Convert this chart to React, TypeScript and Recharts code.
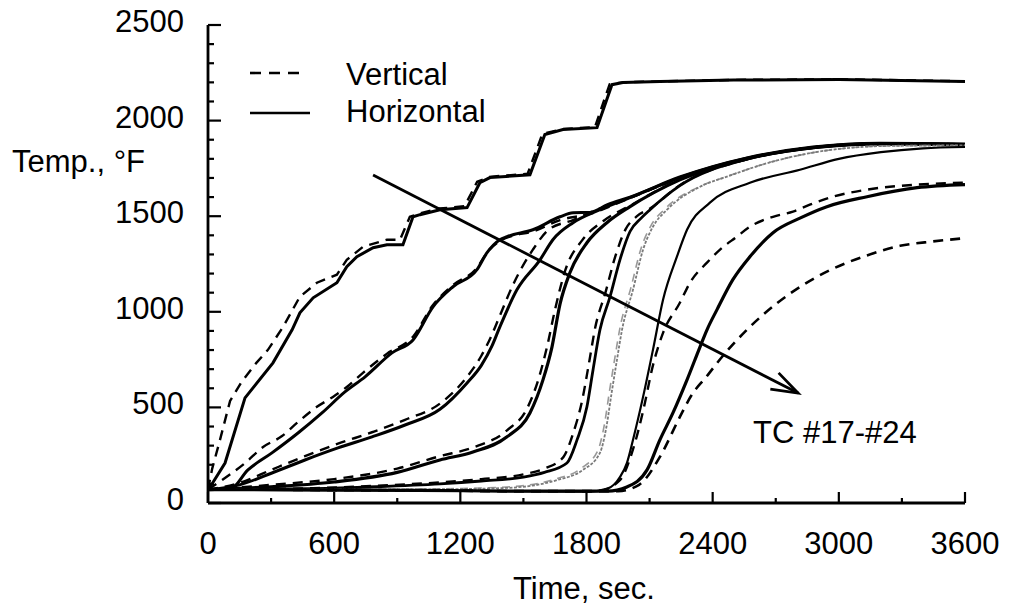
import React from 'react';
import { LineChart, Line, XAxis, YAxis, ReferenceLine } from 'recharts';

type Pt = [number, number];

const FONT = '"Liberation Sans", Arial, Helvetica, sans-serif';

// axis ticks
const xMajorTicks = [0, 600, 1200, 1800, 2400, 3000, 3600];
const xMinorTicks = [300, 900, 1500, 2100, 2700, 3300];
const yMajorTicks = [0, 500, 1000, 1500, 2000, 2500];
const yMinorTicks = [100, 200, 300, 400, 600, 700, 800, 900, 1100, 1200, 1300, 1400, 1600, 1700, 1800, 1900, 2100, 2200, 2300, 2400];

// [time sec, temp F]
const h1: Pt[] = [
  [0, 70], [10, 84], [81, 209], [176, 550], [309, 733], [400, 906], [437, 995], [500, 1073], [613, 1152],
  [660, 1236], [708, 1288], [785, 1335], [851, 1351], [927, 1351], [975, 1497], [1008, 1508], [1103, 1534],
  [1232, 1545], [1293, 1675], [1341, 1702], [1531, 1717], [1602, 1927], [1688, 1953], [1850, 1963],
  [1921, 2188], [1973, 2199], [2149, 2204], [2500, 2212], [3000, 2215], [3600, 2205],
];
const v1: Pt[] = [
  [0, 70], [20, 180], [57, 330], [105, 534], [160, 634], [230, 733], [285, 801], [357, 921], [437, 1079],
  [518, 1152], [613, 1194], [660, 1272], [737, 1340], [851, 1377], [913, 1377], [960, 1497], [1000, 1512],
  [1100, 1540], [1220, 1552], [1280, 1680], [1340, 1706], [1520, 1722], [1590, 1930], [1690, 1956],
  [1840, 1966], [1910, 2190], [1973, 2200], [2149, 2205], [2500, 2213], [3000, 2216], [3600, 2206],
];
const h2: Pt[] = [
  [0, 70], [105, 72], [190, 173], [304, 262], [428, 366], [542, 471], [651, 581], [747, 660], [875, 785],
  [975, 853], [1070, 1026], [1165, 1131], [1279, 1220], [1327, 1309], [1388, 1377], [1422, 1393],
  [1545, 1429], [1674, 1497], [1736, 1518], [1816, 1520], [1900, 1560], [2007, 1600], [2244, 1705],
  [2563, 1805], [2877, 1862], [3195, 1882], [3600, 1878],
];
const v2: Pt[] = [
  [0, 70], [67, 120], [176, 209], [262, 293], [352, 350], [423, 419], [518, 503], [594, 555], [660, 607],
  [737, 681], [850, 780], [975, 870], [1070, 1035], [1165, 1140], [1279, 1230], [1327, 1310], [1388, 1370],
  [1440, 1395], [1545, 1420], [1674, 1480], [1816, 1512], [2007, 1595], [2244, 1700], [2563, 1802],
  [2877, 1860], [3195, 1880], [3600, 1876],
];
const h3: Pt[] = [
  [0, 70], [150, 95], [304, 157], [461, 225], [618, 288], [780, 346], [937, 408], [1103, 490], [1232, 628],
  [1300, 720], [1350, 820], [1388, 921], [1469, 1115], [1579, 1272], [1640, 1377], [1736, 1466],
  [1864, 1534], [2007, 1597], [2244, 1702], [2563, 1803], [2877, 1860], [3195, 1880], [3600, 1874],
];
const v3: Pt[] = [
  [0, 70], [150, 105], [304, 175], [461, 245], [618, 310], [780, 370], [937, 435], [1103, 520], [1232, 660],
  [1300, 770], [1350, 880], [1388, 980], [1450, 1140], [1545, 1325], [1620, 1429], [1736, 1480],
  [1864, 1540], [2007, 1597], [2244, 1700], [2563, 1802], [2877, 1860], [3195, 1880], [3600, 1874],
];
const h4: Pt[] = [
  [0, 70], [300, 85], [600, 110], [900, 160], [1103, 225], [1260, 267], [1422, 346], [1531, 471],
  [1593, 644], [1636, 817], [1674, 1040], [1721, 1204], [1802, 1361], [1897, 1466], [2007, 1550],
  [2244, 1690], [2563, 1800], [2877, 1858], [3195, 1878], [3600, 1873],
];
const v4: Pt[] = [
  [0, 70], [300, 95], [600, 125], [900, 180], [1103, 245], [1260, 290], [1422, 380], [1520, 500],
  [1575, 660], [1615, 830], [1650, 1010], [1700, 1220], [1780, 1375], [1880, 1475], [2007, 1555],
  [2244, 1692], [2563, 1800], [2877, 1858], [3195, 1878], [3600, 1873],
];
const h5: Pt[] = [
  [0, 70], [500, 75], [800, 85], [1103, 100], [1300, 115], [1500, 135], [1600, 160], [1707, 209],
  [1755, 330], [1802, 503], [1831, 696], [1864, 906], [1912, 1079], [1959, 1272], [2007, 1420],
  [2060, 1490], [2102, 1534], [2244, 1660], [2563, 1798], [2877, 1858], [3195, 1878], [3600, 1872],
];
const v5: Pt[] = [
  [0, 70], [500, 78], [800, 90], [1103, 108], [1300, 125], [1500, 150], [1600, 180], [1690, 240],
  [1735, 360], [1780, 540], [1810, 720], [1842, 920], [1890, 1100], [1937, 1290], [1985, 1430],
  [2040, 1500], [2102, 1540], [2244, 1662], [2563, 1798], [2877, 1858], [3195, 1878], [3600, 1872],
];
const h6: Pt[] = [
  [0, 70], [600, 70], [1100, 72], [1422, 79], [1660, 120], [1783, 173], [1864, 262], [1895, 400],
  [1920, 580], [1945, 750], [1969, 906], [2021, 1115], [2069, 1325], [2116, 1445], [2183, 1534],
  [2340, 1654], [2468, 1707], [2700, 1790], [2950, 1845], [3250, 1868], [3600, 1870],
];
const v6: Pt[] = [
  [0, 70], [600, 70], [1100, 74], [1422, 84], [1650, 125], [1773, 180], [1854, 275], [1885, 410],
  [1910, 590], [1935, 760], [1959, 915], [2011, 1125], [2059, 1330], [2106, 1450], [2173, 1538],
  [2340, 1656], [2468, 1708], [2700, 1790], [2950, 1845], [3250, 1868], [3600, 1870],
];
const h7: Pt[] = [
  [0, 70], [1000, 66], [1500, 62], [1816, 60], [1900, 75], [1959, 136], [1992, 209], [2021, 330],
  [2069, 555], [2116, 801], [2164, 1063], [2230, 1288], [2278, 1429], [2387, 1571], [2577, 1675],
  [2815, 1743], [3000, 1800], [3200, 1835], [3400, 1855], [3600, 1862],
];
const v7: Pt[] = [
  [0, 70], [1000, 66], [1500, 62], [1850, 62], [1959, 120], [2021, 280], [2069, 480], [2116, 720],
  [2164, 890], [2244, 1047], [2292, 1152], [2373, 1257], [2435, 1325], [2515, 1393], [2577, 1445],
  [2687, 1497], [2782, 1524], [2862, 1560], [2972, 1602], [3134, 1639], [3372, 1665], [3600, 1675],
];
const h8: Pt[] = [
  [0, 70], [1000, 66], [1500, 62], [1900, 62], [1992, 84], [2088, 173], [2149, 330], [2211, 471],
  [2278, 644], [2340, 817], [2373, 906], [2420, 1010], [2496, 1168], [2577, 1288], [2687, 1414],
  [2815, 1490], [2943, 1550], [3134, 1602], [3372, 1649], [3600, 1665],
];
const v8: Pt[] = [
  [0, 70], [1000, 66], [1500, 62], [1950, 62], [2050, 95], [2149, 241], [2244, 450], [2300, 565],
  [2370, 660], [2449, 770], [2563, 906], [2706, 1045], [2815, 1130], [2943, 1210], [3134, 1295],
  [3291, 1345], [3448, 1368], [3600, 1385],
];

// arrow pointing along increasing TC number
const arrowFrom = { t: 785, v: 1715 };
const arrowTo = { t: 2806, v: 575 };

const DASH = '10 7';

const series = [
  { id: 'v1', pts: v1, color: '#000', width: 2.4, dash: DASH, curve: 'linear' },
  { id: 'h1', pts: h1, color: '#000', width: 3, dash: undefined, curve: 'linear' },
  { id: 'v2', pts: v2, color: '#000', width: 2.4, dash: DASH, curve: 'monotone' },
  { id: 'h2', pts: h2, color: '#000', width: 3, dash: undefined, curve: 'monotone' },
  { id: 'v3', pts: v3, color: '#000', width: 2.4, dash: DASH, curve: 'monotone' },
  { id: 'h3', pts: h3, color: '#000', width: 3, dash: undefined, curve: 'monotone' },
  { id: 'v4', pts: v4, color: '#000', width: 2.4, dash: DASH, curve: 'monotone' },
  { id: 'h4', pts: h4, color: '#000', width: 3.2, dash: undefined, curve: 'monotone' },
  { id: 'v5', pts: v5, color: '#000', width: 2.4, dash: DASH, curve: 'monotone' },
  { id: 'h5', pts: h5, color: '#000', width: 2.8, dash: undefined, curve: 'monotone' },
  { id: 'v6', pts: v6, color: '#999', width: 1.6, dash: '8 6', curve: 'monotone' },
  { id: 'h6', pts: h6, color: '#7a7a7a', width: 1.8, dash: '3 1.5', curve: 'monotone' },
  { id: 'v7', pts: v7, color: '#000', width: 2.4, dash: DASH, curve: 'monotone' },
  { id: 'h7', pts: h7, color: '#000', width: 2.2, dash: undefined, curve: 'monotone' },
  { id: 'v8', pts: v8, color: '#000', width: 2.6, dash: DASH, curve: 'monotone' },
  { id: 'h8', pts: h8, color: '#000', width: 3.2, dash: undefined, curve: 'monotone' },
];

const toRows = (pts: Pt[]) => pts.map(([t, v]) => ({ t, v }));

function XTick({ x, y, payload }: any) {
  const major = xMajorTicks.includes(payload.value);
  return (
    <g>
      <line x1={x} y1={y} x2={x} y2={y - (major ? 11 : 5)} stroke="#000" strokeWidth={2.2} />
      {major && (
        <text x={x} y={y + 51} textAnchor="middle" fontSize={31} fontFamily={FONT} fill="#000">
          {payload.value}
        </text>
      )}
    </g>
  );
}

function YTick({ x, y, payload }: any) {
  const major = yMajorTicks.includes(payload.value);
  return (
    <g>
      <line x1={x} y1={y} x2={x + (major ? 13 : 6)} y2={y} stroke="#000" strokeWidth={2.2} />
      {major && (
        <text x={x - 24} y={y + 7} textAnchor="end" fontSize={31} fontFamily={FONT} fill="#000">
          {payload.value}
        </text>
      )}
    </g>
  );
}

function ArrowShape({ x1, y1, x2, y2 }: any) {
  const ang = Math.atan2(y2 - y1, x2 - x1);
  const len = 28;
  const spread = 0.33;
  const ax = x2 - len * Math.cos(ang - spread);
  const ay = y2 - len * Math.sin(ang - spread);
  const bx = x2 - len * Math.cos(ang + spread);
  const by = y2 - len * Math.sin(ang + spread);
  return (
    <g>
      <line x1={x1} y1={y1} x2={x2} y2={y2} stroke="#000" strokeWidth={2.8} />
      <polyline points={`${ax},${ay} ${x2},${y2} ${bx},${by}`} fill="none" stroke="#000" strokeWidth={2.8} />
    </g>
  );
}

export default function App() {
  const xTicks = [...xMajorTicks, ...xMinorTicks].sort((a, b) => a - b);
  const yTicks = [...yMajorTicks, ...yMinorTicks].sort((a, b) => a - b);

  return (
    <div style={{ position: 'absolute', left: 0, top: 0, width: 1010, height: 607, background: '#fff' }}>
      <LineChart width={1010} height={607} margin={{ top: 25, right: 45, bottom: 74, left: 148 }}>
        <XAxis
          type="number"
          dataKey="t"
          domain={[0, 3600]}
          ticks={xTicks}
          interval={0}
          tickSize={0}
          tickMargin={0}
          tickLine={false}
          height={30}
          axisLine={{ stroke: '#000', strokeWidth: 2.8 }}
          tick={(p: any) => <XTick {...p} />}
          allowDataOverflow
        />
        <YAxis
          type="number"
          domain={[0, 2500]}
          ticks={yTicks}
          interval={0}
          tickSize={0}
          tickMargin={0}
          tickLine={false}
          width={60}
          axisLine={{ stroke: '#000', strokeWidth: 2.8 }}
          tick={(p: any) => <YTick {...p} />}
          allowDataOverflow
        />
        {series.map((s) => (
          <Line
            key={s.id}
            name={s.id}
            data={toRows(s.pts)}
            dataKey="v"
            type={s.curve as any}
            stroke={s.color}
            strokeWidth={s.width}
            strokeDasharray={s.dash}
            dot={false}
            activeDot={false}
            isAnimationActive={false}
          />
        ))}
        <ReferenceLine
          segment={[
            { x: arrowFrom.t, y: arrowFrom.v },
            { x: arrowTo.t, y: arrowTo.v },
          ]}
          shape={(p: any) => <ArrowShape {...p} />}
        />
      </LineChart>

      {/* labels, legend */}
      <svg width={1010} height={607} style={{ position: 'absolute', left: 0, top: 0, pointerEvents: 'none' }}>
        <g fontFamily={FONT} fontSize={31} fill="#000">
          <text x={12} y={172}>Temp., °F</text>
          <line x1={250} y1={73} x2={304} y2={73} stroke="#000" strokeWidth={2.6} strokeDasharray="11 8" />
          <text x={346} y={85}>Vertical</text>
          <line x1={250} y1={113} x2={310} y2={113} stroke="#000" strokeWidth={2.6} />
          <text x={346} y={122}>Horizontal</text>
          <text x={753} y={443}>TC #17-#24</text>
          <text x={584} y={599} textAnchor="middle">Time, sec.</text>
        </g>
      </svg>
    </div>
  );
}
